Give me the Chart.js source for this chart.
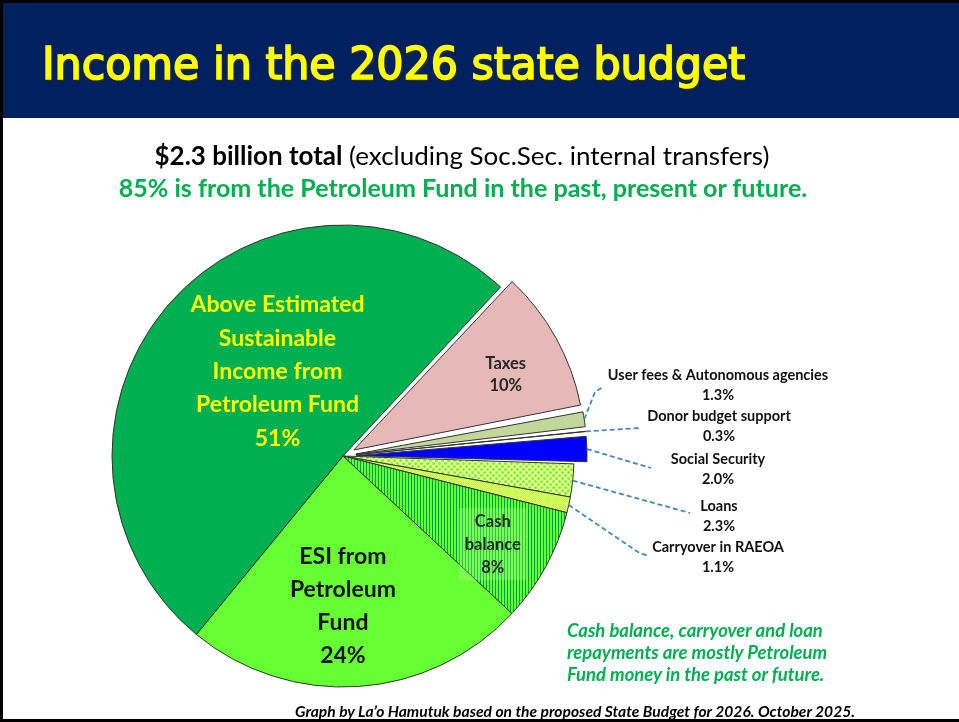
<!DOCTYPE html>
<html>
<head>
<meta charset="utf-8">
<script src="https://cdn.jsdelivr.net/npm/chart.js@4.4.1/dist/chart.umd.min.js"></script>
<style>
html,body{margin:0;padding:0;background:#fff;}
#page{position:relative;width:959px;height:722px;overflow:hidden;background:#fff;}
#header{position:absolute;left:0;top:0;width:959px;height:118px;background:#002060;}
#frame{position:absolute;left:0;top:0;width:962px;height:722px;box-sizing:border-box;border:3px solid #000;pointer-events:none;z-index:5;}
.t{position:absolute;white-space:nowrap;line-height:1;z-index:3;}
#title{color:#ffff00;font-family:'DejaVu Sans Condensed','DejaVu Sans',sans-serif;font-weight:normal;font-size:45px;transform-origin:left center;-webkit-text-stroke:1.6px #ffff00;text-shadow:1.5px 1.5px 1.5px rgba(60,50,0,0.9);}
#line1{font-family:Lato,sans-serif;font-size:24px;color:#000;}
#line1 b{font-weight:bold;}
#line2{font-family:Lato,sans-serif;font-weight:bold;font-size:22px;color:#00b050;}
.note{font-family:Lato,sans-serif;font-weight:bold;font-style:italic;font-size:15.5px;color:#00b050;}
#footer{font-family:Lato,sans-serif;font-weight:bold;font-style:italic;font-size:12.5px;color:#000;}
#chart{position:absolute;left:0;top:0;z-index:2;}
</style>
</head>
<body>
<div id="page">
  <div id="header"></div>
  <div class="t" id="title">Income in the 2026 state budget</div>
  <div class="t" id="line1"><b>$2.3 billion total</b> (excluding Soc.Sec. internal transfers)</div>
  <div class="t" id="line2">85% is from the Petroleum Fund in the past, present or future.</div>
  <div class="t note" id="n1">Cash balance, carryover and loan</div>
  <div class="t note" id="n2">repayments are mostly Petroleum</div>
  <div class="t note" id="n3">Fund money in the past or future.</div>
  <div class="t" id="footer">Graph by La’o Hamutuk based on the proposed State Budget for 2026. October 2025.</div>
  <canvas id="chart" width="959" height="722"></canvas>
  <div id="frame"></div>
</div>
<script>
// ---------------- DATA ----------------
const categories = [
  'Taxes',
  'User fees & Autonomous agencies',
  'Donor budget support',
  'Social Security',
  'Loans',
  'Carryover in RAEOA',
  'Cash balance',
  'ESI from Petroleum Fund',
  'Above Estimated Sustainable Income from Petroleum Fund'
];
const shares = [10, 1.3, 0.3, 2.0, 2.3, 1.1, 8, 24, 51];
const shareLabels = ['10%', '1.3%', '0.3%', '2.0%', '2.3%', '1.1%', '8%', '24%', '51%'];
const labelLines = [
  ['Taxes'],
  ['User fees & Autonomous agencies'],
  ['Donor budget support'],
  ['Social Security'],
  ['Loans'],
  ['Carryover in RAEOA'],
  ['Cash', 'balance'],
  ['ESI from', 'Petroleum', 'Fund'],
  ['Above Estimated', 'Sustainable', 'Income from', 'Petroleum Fund']
];

// ---------------- HTML text placement ----------------
function fitWidth(el, w){
  const cur = el.getBoundingClientRect().width;
  const fs = parseFloat(getComputedStyle(el).fontSize);
  el.style.fontSize = (fs * w / cur) + 'px';
}
function centerAt(el, cx, cy){
  const r = el.getBoundingClientRect();
  el.style.left = (cx - r.width / 2) + 'px';
  el.style.top = (cy - r.height / 2) + 'px';
}
function leftAt(el, x, cy){
  const r = el.getBoundingClientRect();
  el.style.left = x + 'px';
  el.style.top = (cy - r.height / 2) + 'px';
}
function rightAt(el, x, cy){
  const r = el.getBoundingClientRect();
  el.style.left = (x - r.width) + 'px';
  el.style.top = (cy - r.height / 2) + 'px';
}
(function layoutText(){
  const title = document.getElementById('title');
  const tw = title.getBoundingClientRect().width;
  title.style.transform = 'scaleX(' + (703 / tw) + ')';
  leftAt(title, 42, 63);
  const l1 = document.getElementById('line1'); fitWidth(l1, 615); centerAt(l1, 462, 156);
  const l2 = document.getElementById('line2'); fitWidth(l2, 689); centerAt(l2, 463, 188);
  const n1 = document.getElementById('n1'); fitWidth(n1, 256);
  const fs = getComputedStyle(n1).fontSize;
  ['n2','n3'].forEach(id => document.getElementById(id).style.fontSize = fs);
  leftAt(n1, 567, 630);
  leftAt(document.getElementById('n2'), 567, 652);
  leftAt(document.getElementById('n3'), 567, 674);
  const f = document.getElementById('footer'); fitWidth(f, 560); rightAt(f, 855, 712);
})();

// Exploded slices: keep the slice radius, only move it outwards
(function(){
  const Arc = Chart.ArcElement;
  const orig = Arc.prototype.draw;
  Arc.prototype.draw = function(c){
    const off = (this.options.offset || 0) / 4;
    const fix = 1 - Math.sin(Math.min(Math.PI, this.circumference || 0));
    const saved = this.outerRadius;
    this.outerRadius = saved - off * fix;
    orig.call(this, c);
    this.outerRadius = saved;
  };
})();

// ---------------- patterns ----------------
function pattern(w, h, draw){
  const c = document.createElement('canvas'); c.width = w; c.height = h;
  const x = c.getContext('2d'); draw(x);
  return x.createPattern(c, 'repeat');
}
const ctx = document.getElementById('chart').getContext('2d');
const stripes = pattern(3, 3, x => {
  x.fillStyle = '#66ff33'; x.fillRect(0, 0, 3, 3);
  x.fillStyle = '#00a040'; x.fillRect(0, 0, 1, 3);
});
const dots = pattern(6, 6, x => {
  x.fillStyle = '#ffff88'; x.fillRect(0, 0, 6, 6);
  x.fillStyle = '#5cff4a';
  x.beginPath(); x.arc(1.5, 1.5, 1.5, 0, Math.PI * 2); x.fill();
  x.beginPath(); x.arc(4.5, 4.5, 1.5, 0, Math.PI * 2); x.fill();
});
const lime = pattern(2, 2, x => {
  x.fillStyle = '#bfff44'; x.fillRect(0, 0, 2, 2);
  x.fillStyle = '#e0ff70'; x.fillRect(0, 0, 1, 1); x.fillRect(1, 1, 1, 1);
});

const colors = ['#e6b9b8', '#c4d79b', '#ff0000', '#0000ff', dots, lime, stripes, '#66ff33', '#00b050'];
const explode = [50, 52, 52, 52, 0, 0, 0, 0, 0];

// label styles (inside slices)
const insideLabels = {
  0: {dist: 169, dx: 4, dy: 7, font: 'bold 16.5px Lato', color: '#262626', gap: 22},
  6: {dist: 174, dx: -3, dy: 5, font: 'bold 16.5px Lato', color: '#1a2a1a', gap: 23, box: true},
  7: {dist: 150, dx: -10, dy: 0, font: 'bold 23px Lato', color: '#111', gap: 33},
  8: {dist: 107, dx: 15, dy: -14, font: 'bold 23px Lato', color: '#ffff00', gap: 33.3}
};
// outside labels: [label centre dx, first line dy] relative to pie centre, leader points relative to pie centre
const outsideLabels = {
  1: {pos: [375, -81], leader: [[252, -64], [260, -69]]},
  2: {pos: [376, -40], leader: [[297, -28]]},
  3: {pos: [375, 3],   leader: [[308, 12]]},
  4: {pos: [376, 50],  leader: [[347, 57]]},
  5: {pos: [375, 91],  leader: [[295, 96], [305, 100]]}
};

const labelPlugin = {
  id: 'sliceLabels',
  afterDatasetsDraw(chart){
    const c = chart.ctx;
    const meta = chart.getDatasetMeta(0);
    meta.data.forEach((arc, i) => {
      const p = arc.getProps(['x', 'y', 'startAngle', 'endAngle', 'outerRadius'], true);
      const mid = (p.startAngle + p.endAngle) / 2;
      const shift = explode[i] / 4;
      const cx = p.x + Math.cos(mid) * shift, cy = p.y + Math.sin(mid) * shift;
      const lines = labelLines[i].concat([shareLabels[i]]);
      c.save();
      c.textAlign = 'center'; c.textBaseline = 'middle';
      if (insideLabels[i]) {
        const s = insideLabels[i];
        const lx = cx + Math.cos(mid) * s.dist + s.dx;
        const ly = cy + Math.sin(mid) * s.dist + s.dy;
        c.font = s.font;
        const top = ly - s.gap * (lines.length - 1) / 2;
        if (s.box) {
          let w = 0; lines.forEach(l => w = Math.max(w, c.measureText(l).width));
          c.fillStyle = 'rgba(170,255,150,0.3)';
          c.fillRect(lx - w / 2 - 6, top - 13, w + 12, s.gap * (lines.length - 1) + 26);
        }
        c.fillStyle = s.color;
        lines.forEach((l, k) => c.fillText(l, lx, top + k * s.gap));
      } else if (outsideLabels[i]) {
        const s = outsideLabels[i];
        const sx = cx + Math.cos(mid) * p.outerRadius, sy = cy + Math.sin(mid) * p.outerRadius;
        c.strokeStyle = '#3f86c8'; c.lineWidth = 1.8; c.setLineDash([5, 3]);
        c.beginPath(); c.moveTo(sx, sy);
        s.leader.forEach(pt => c.lineTo(p.x + pt[0], p.y + pt[1]));
        c.stroke();
        c.setLineDash([]);
        c.font = 'bold 14.5px Lato'; c.fillStyle = '#111';
        const lx = p.x + s.pos[0], ly = p.y + s.pos[1];
        lines.forEach((l, k) => c.fillText(l, lx, ly + k * 20));
      }
      c.restore();
    });
  }
};

new Chart(ctx, {
  type: 'pie',
  data: {
    labels: categories,
    datasets: [{
      data: shares,
      backgroundColor: colors,
      borderColor: '#333333',
      borderWidth: 1,
      offset: explode
    }]
  },
  options: {
    responsive: false,
    animation: false,
    rotation: 43,
    radius: 231,
    layout: {padding: {left: 0, right: 273, top: 190, bottom: 0}},
    plugins: {legend: {display: false}, tooltip: {enabled: false}},
    events: []
  },
  plugins: [labelPlugin]
});
</script>
</body>
</html>
